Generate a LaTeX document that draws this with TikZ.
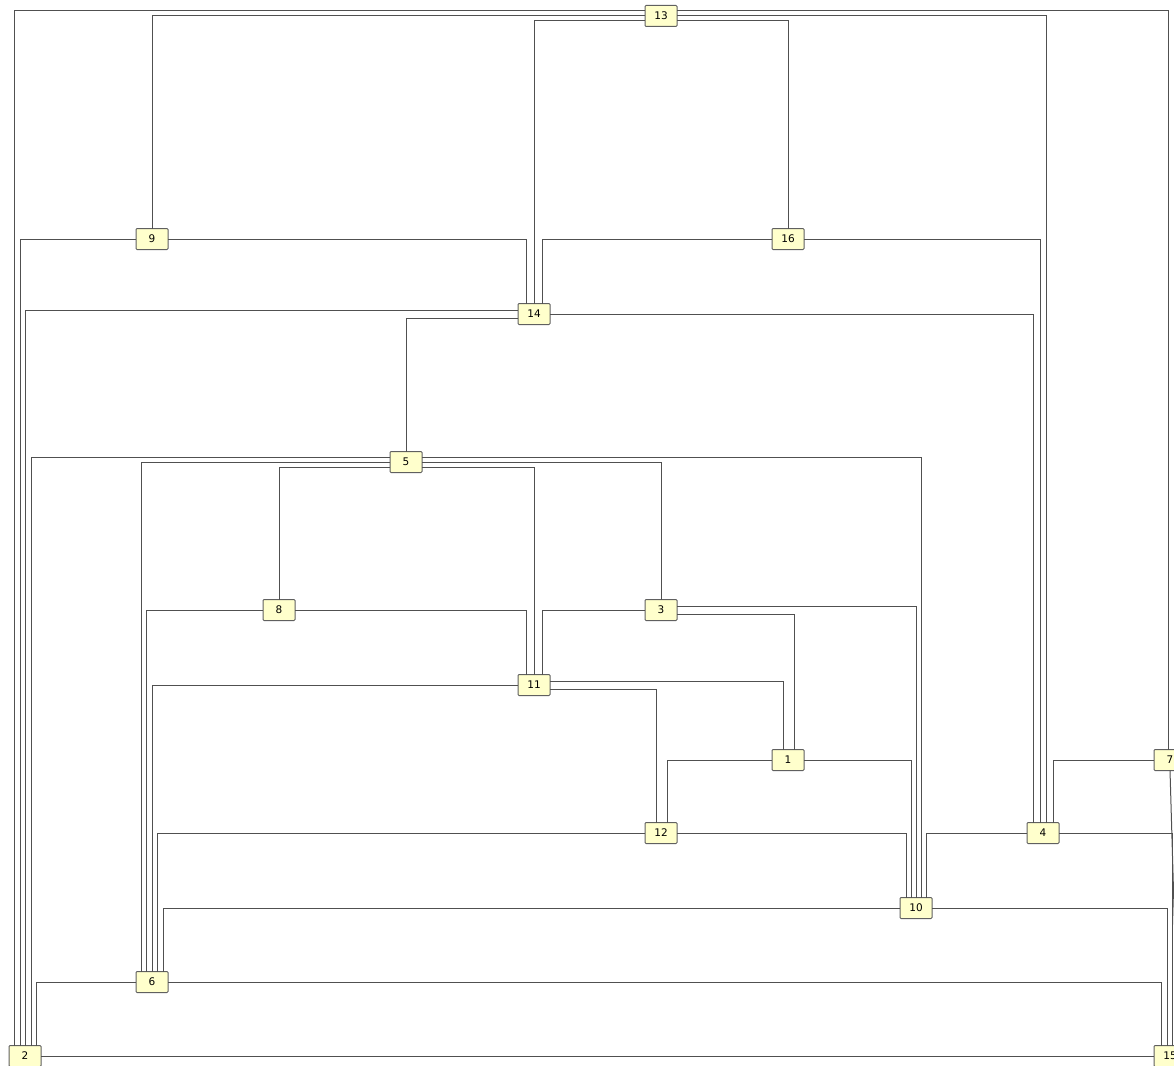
\documentclass[tikz,border=0pt]{standalone}
\usepackage{fontspec}
\setmainfont{DejaVu Sans}
\definecolor{boxfill}{HTML}{FFFFCC}
\definecolor{boxline}{HTML}{606060}
\definecolor{wire}{HTML}{505050}

\begin{document}
\begin{tikzpicture}[
				x=1pt, y=-1pt,
				every node/.style={
						font=\fontsize{10.5}{12}\selectfont,
						minimum width=32pt,
						minimum height=21pt,
						inner sep=0pt,
						outer sep=0pt,
						rounded corners=1pt,
						draw=boxline,
						fill=boxfill,
						line width=1pt
					},
				link/.style={draw=wire, line width=1pt}
			]
			\useasboundingbox (0,0) rectangle (1174,1065);
			\clip (0,0) rectangle (1174,1065);

			\node (n13) at (661,16) {13};
			\node (n9) at (152,239) {9};
			\node (n16) at (788,239) {16};
			\node (n14) at (534,314) {14};
			\node (n5) at (406,462) {5};
			\node (n8) at (279,610) {8};
			\node (n3) at (661,610) {3};
			\node (n11) at (534,685) {11};
			\node (n1) at (788,760) {1};
			\node (n7) at (1170,760) {7};
			\node (n12) at (661,833) {12};
			\node (n4) at (1043,833) {4};
			\node (n10) at (916,908) {10};
			\node (n6) at (152,982) {6};
			\node (n2) at (25,1056) {2};
			\node (n15) at (1170,1056) {15};

			% 13
			\draw[link] ([yshift=5pt]n13.west) -| ([xshift=-11pt]n2.north);
			\draw[link] (n13.west) -| (n9.north);
			\draw[link] ([yshift=-5pt]n13.west) -| (n14.north);
			\draw[link] ([yshift=5pt]n13.east) -| ([xshift=-2pt]n7.north);
			\draw[link] (n13.east) -| ([xshift=3pt]n4.north);
			\draw[link] ([yshift=-5pt]n13.east) -| (n16.north);
			% 9 and 16
			\draw[link] (n9.west) -| ([xshift=-5pt]n2.north);
			\draw[link] (n9.east) -| ([xshift=-8pt]n14.north);
			\draw[link] (n16.west) -| ([xshift=8pt]n14.north);
			\draw[link] (n16.east) -| ([xshift=-3pt]n4.north);
			% 14
			\draw[link] ([yshift=4pt]n14.west) -| (n2.north);
			\draw[link] ([yshift=-4pt]n14.west) -| (n5.north);
			\draw[link] (n14.east) -| ([xshift=-10pt]n4.north);
			% 5
			\draw[link] ([yshift=5pt]n5.west) -| ([xshift=6pt]n2.north);
			\draw[link] (n5.west) -| ([xshift=-11pt]n6.north);
			\draw[link] ([yshift=-5pt]n5.west) -| (n8.north);
			\draw[link] ([yshift=-5pt]n5.east) -| (n11.north);
			\draw[link] (n5.east) -| (n3.north);
			\draw[link] ([yshift=5pt]n5.east) -| ([xshift=5pt]n10.north);
			% 8 and 3
			\draw[link] (n8.west) -| ([xshift=-5.5pt]n6.north);
			\draw[link] (n8.east) -| ([xshift=-8pt]n11.north);
			\draw[link] (n3.west) -| ([xshift=8pt]n11.north);
			\draw[link] ([yshift=4pt]n3.east) -| (n10.north);
			\draw[link] ([yshift=-4pt]n3.east) -| ([xshift=6pt]n1.north);
			% 11
			\draw[link] (n11.west) -| (n6.north);
			\draw[link] ([yshift=4pt]n11.east) -| ([xshift=-5pt]n1.north);
			\draw[link] ([yshift=-4pt]n11.east) -| ([xshift=-5pt]n12.north);
			% 1 and 12
			\draw[link] (n1.west) -| ([xshift=6pt]n12.north);
			\draw[link] (n1.east) -| ([xshift=-5pt]n10.north);
			\draw[link] (n12.west) -| ([xshift=5.5pt]n6.north);
			\draw[link] (n12.east) -| ([xshift=-10pt]n10.north);
			% 4 and 7
			\draw[link] (n4.west) -| ([xshift=10pt]n10.north);
			\draw[link] (n4.east) -| ([xshift=2pt]n15.north);
			\draw[link] (n7.west) -| ([xshift=10pt]n4.north);
			\draw[link] (n7.south) -- ([xshift=8pt]n15.north);
			% 10, 6 and 2
			\draw[link] (n10.west) -| ([xshift=11pt]n6.north);
			\draw[link] (n10.east) -| ([xshift=-3pt]n15.north);
			\draw[link] (n6.west) -| ([xshift=11pt]n2.north);
			\draw[link] (n6.east) -| ([xshift=-9pt]n15.north);
			\draw[link] (n2.east) -- (n15.west);
		\end{tikzpicture}
\end{document}
